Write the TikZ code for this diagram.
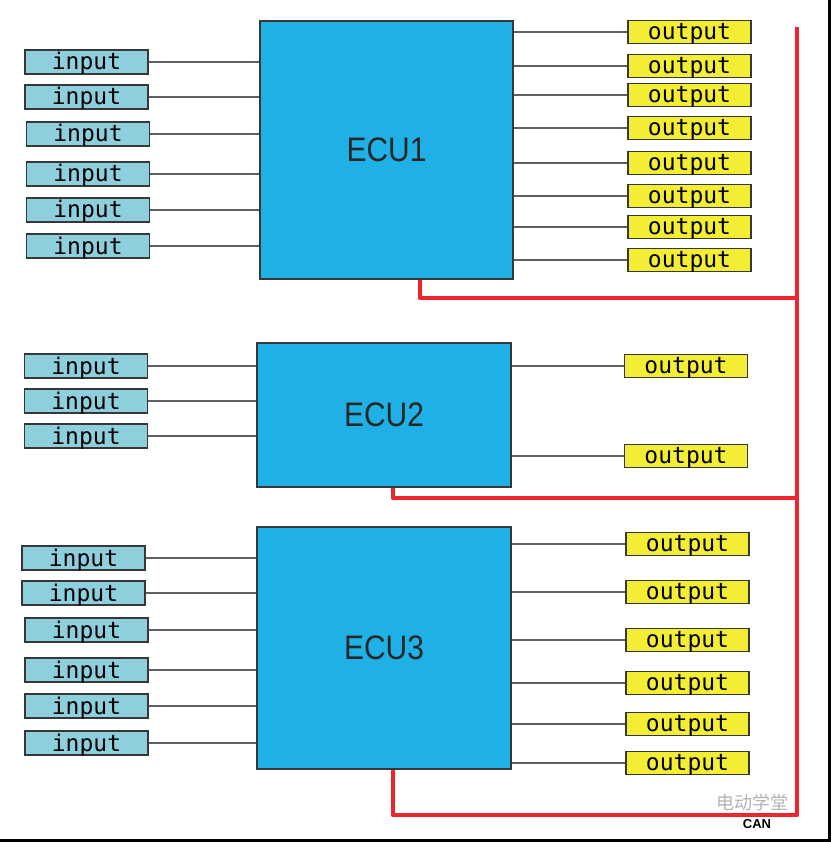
\documentclass[tikz,border=0pt]{standalone}
\usepackage{fontspec}
\setmainfont{Liberation Sans}
\newfontfamily\monofont{DejaVu Sans Mono}
\newfontfamily\cjkfont{Noto Sans CJK SC}
\usepackage{tikz}
\usetikzlibrary{positioning}
\definecolor{ecublue}{RGB}{31,176,229}
\definecolor{inblue}{RGB}{142,207,221}
\definecolor{outyellow}{RGB}{243,238,52}
\definecolor{canred}{RGB}{236,38,44}
\definecolor{wiregray}{RGB}{95,95,95}
\definecolor{edgegray}{RGB}{55,55,55}

\begin{document}
\begin{tikzpicture}[x=1pt, y=-1pt,
	ecu/.style={draw=edgegray, line width=1.2pt, fill=ecublue, inner sep=0pt, text=black!85, font=\fontsize{34}{34}\selectfont},
	inbox/.style={draw=edgegray, line width=1.5pt, fill=inblue, minimum width=123pt, minimum height=24pt, inner sep=0pt, text height=16pt, text depth=0pt, font=\monofont\fontsize{23}{23}\selectfont},
	outbox/.style={draw=edgegray, line width=1.5pt, fill=outyellow, minimum width=123pt, minimum height=23pt, inner sep=0pt, text height=15pt, text depth=0pt, font=\monofont\fontsize{23}{23}\selectfont},
	wire/.style={draw=wiregray, line width=1.4pt},
	can/.style={draw=canred, line width=4.5pt, line join=round}]
	\useasboundingbox (0,0) rectangle (831,842);
	\node[ecu, minimum width=253pt, minimum height=258pt] (ecu1) at (386.5,150) {\scalebox{0.88}[1]{ECU1}};
	\node[ecu, minimum width=254pt, minimum height=144pt] (ecu2) at (384,415) {\scalebox{0.88}[1]{ECU2}};
	\node[ecu, minimum width=254pt, minimum height=242pt] (ecu3) at (384,648) {\scalebox{0.88}[1]{ECU3}};

	\node[inbox] (in11) at (86.5,62) {input};
	\node[inbox] (in12) at (86.5,97) {input};
	\node[inbox] (in13) at (88,134) {input};
	\node[inbox] (in14) at (88,174) {input};
	\node[inbox] (in15) at (88,210) {input};
	\node[inbox] (in16) at (88,246) {input};
	\node[inbox] (in21) at (86,366) {input};
	\node[inbox] (in22) at (86,401) {input};
	\node[inbox] (in23) at (86,436) {input};
	\node[inbox] (in31) at (83.5,558) {input};
	\node[inbox] (in32) at (83.5,593) {input};
	\node[inbox] (in33) at (86.5,630) {input};
	\node[inbox] (in34) at (86.5,670) {input};
	\node[inbox] (in35) at (86.5,706) {input};
	\node[inbox] (in36) at (86.5,743) {input};

	\node[outbox] (out11) at (689.5,32) {output};
	\node[outbox] (out12) at (689.5,66) {output};
	\node[outbox] (out13) at (689.5,95) {output};
	\node[outbox] (out14) at (689.5,128) {output};
	\node[outbox] (out15) at (689.5,163) {output};
	\node[outbox] (out16) at (689.5,196) {output};
	\node[outbox] (out17) at (689.5,227) {output};
	\node[outbox] (out18) at (689.5,260) {output};
	\node[outbox] (out21) at (686,366) {output};
	\node[outbox] (out22) at (686,456) {output};
	\node[outbox] (out31) at (687.5,544) {output};
	\node[outbox] (out32) at (687.5,592) {output};
	\node[outbox] (out33) at (687.5,640) {output};
	\node[outbox] (out34) at (687.5,683) {output};
	\node[outbox] (out35) at (687.5,724) {output};
	\node[outbox] (out36) at (687.5,763) {output};

	\draw[wire] (in11) -- (in11 -| ecu1.west);
	\draw[wire] (in12) -- (in12 -| ecu1.west);
	\draw[wire] (in13) -- (in13 -| ecu1.west);
	\draw[wire] (in14) -- (in14 -| ecu1.west);
	\draw[wire] (in15) -- (in15 -| ecu1.west);
	\draw[wire] (in16) -- (in16 -| ecu1.west);
	\draw[wire] (in21) -- (in21 -| ecu2.west);
	\draw[wire] (in22) -- (in22 -| ecu2.west);
	\draw[wire] (in23) -- (in23 -| ecu2.west);
	\draw[wire] (in31) -- (in31 -| ecu3.west);
	\draw[wire] (in32) -- (in32 -| ecu3.west);
	\draw[wire] (in33) -- (in33 -| ecu3.west);
	\draw[wire] (in34) -- (in34 -| ecu3.west);
	\draw[wire] (in35) -- (in35 -| ecu3.west);
	\draw[wire] (in36) -- (in36 -| ecu3.west);

	\draw[wire] (out11 -| ecu1.east) -- (out11);
	\draw[wire] (out12 -| ecu1.east) -- (out12);
	\draw[wire] (out13 -| ecu1.east) -- (out13);
	\draw[wire] (out14 -| ecu1.east) -- (out14);
	\draw[wire] (out15 -| ecu1.east) -- (out15);
	\draw[wire] (out16 -| ecu1.east) -- (out16);
	\draw[wire] (out17 -| ecu1.east) -- (out17);
	\draw[wire] (out18 -| ecu1.east) -- (out18);
	\draw[wire] (out21 -| ecu2.east) -- (out21);
	\draw[wire] (out22 -| ecu2.east) -- (out22);
	\draw[wire] (out31 -| ecu3.east) -- (out31);
	\draw[wire] (out32 -| ecu3.east) -- (out32);
	\draw[wire] (out33 -| ecu3.east) -- (out33);
	\draw[wire] (out34 -| ecu3.east) -- (out34);
	\draw[wire] (out35 -| ecu3.east) -- (out35);
	\draw[wire] (out36 -| ecu3.east) -- (out36);

	\node[font=\cjkfont\fontsize{18}{18}\selectfont, text=black!30] (mark) at (752,803) {电动学堂};
	\node[font=\bfseries\fontsize{13}{13}\selectfont, anchor=north] (canlabel) at (757,816) {CAN};

	\coordinate (canTop) at (797,27);
	\coordinate (can1) at (797,298);
	\coordinate (can2) at (797,498);
	\coordinate (canBot) at (797,815);
	\draw[can] ([xshift=33.5pt]ecu1.south) |- (can1);
	\draw[can] ([xshift=9pt]ecu2.south) |- (can2);
	\draw[can] ([xshift=9pt]ecu3.south) |- (canBot) -- (canTop);

	\draw[line width=3pt] (0,840.5) -- (829.5,840.5) -- (829.5,0);
\end{tikzpicture}
\end{document}
